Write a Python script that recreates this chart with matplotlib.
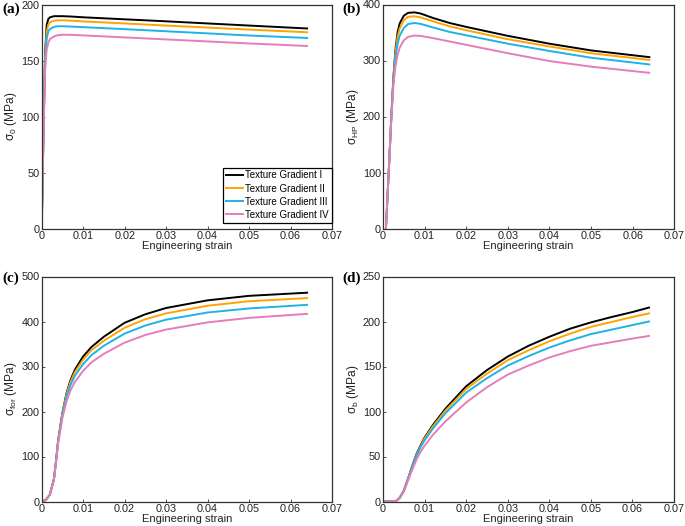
import matplotlib
matplotlib.use('Agg')
import matplotlib.pyplot as plt

plt.rcParams['font.family'] = ['Liberation Sans', 'DejaVu Sans']
plt.rcParams['mathtext.default'] = 'regular'

names = ['Texture Gradient I', 'Texture Gradient II', 'Texture Gradient III', 'Texture Gradient IV']
colors = ['#000000', '#FFA300', '#1CB3E8', '#E67DBB']

# (a) sigma_0
eps_a = [0, 0.0004, 0.0008, 0.0012, 0.0016, 0.002, 0.003, 0.004, 0.005, 0.007,
         0.01, 0.02, 0.03, 0.04, 0.05, 0.064]
s0_1 = [0, 80, 155, 182, 187.5, 189, 190, 190, 190, 189.7, 189, 187.2, 185.4, 183.5, 181.6, 179]
s0_2 = [0, 80, 152, 176, 182.5, 184.5, 186, 186.3, 186.3, 186, 185.3, 183.5, 181.6, 179.8, 178, 175.6]
s0_3 = [0, 80, 148, 170, 176.5, 178.5, 180.5, 181, 181, 180.7, 180.2, 178.4, 176.5, 174.6, 172.7, 170.5]
s0_4 = [0, 78, 140, 160, 166.5, 169.5, 172, 173, 173.4, 173.3, 172.8, 171, 169.2, 167.4, 165.6, 163.3]

# (b) sigma_HP
eps_b = [0.0007, 0.0015, 0.002, 0.0025, 0.003, 0.0035, 0.004, 0.005, 0.006, 0.0075,
         0.009, 0.012, 0.016, 0.02, 0.03, 0.04, 0.05, 0.064]
hp_1 = [0, 120, 200, 270, 320, 350, 366, 380, 385, 386, 384, 376, 367, 360, 344, 330, 318, 306]
hp_2 = [0, 120, 200, 268, 315, 342, 357, 372, 378, 379, 377, 370, 361, 354, 338, 325, 313, 301]
hp_3 = [0, 120, 198, 263, 306, 330, 344, 358, 365, 367, 365.5, 359, 351, 345, 330, 317, 305, 293]
hp_4 = [0, 120, 195, 255, 290, 310, 323, 336, 342, 344.5, 344, 340, 334, 328, 313, 299, 289, 278]

# (c) sigma_for
eps_c = [0, 0.001, 0.002, 0.003, 0.0035, 0.004, 0.005, 0.006, 0.007, 0.008, 0.01,
         0.012, 0.015, 0.02, 0.025, 0.03, 0.04, 0.05, 0.064]
for_1 = [0, 3, 15, 50, 90, 135, 195, 240, 270, 292, 322, 343, 366, 397, 416, 430, 447, 457, 464]
for_2 = [0, 3, 15, 50, 90, 134, 193, 238, 266, 287, 315, 336, 357, 386, 405, 418, 435, 445, 452]
for_3 = [0, 3, 15, 50, 89, 132, 190, 233, 259, 279, 305, 325, 346, 373, 391, 404, 420, 429, 437]
for_4 = [0, 3, 15, 49, 87, 128, 184, 222, 247, 265, 290, 309, 328, 353, 370, 382, 398, 408, 417]

# (d) sigma_b
eps_d = [0, 0.003, 0.004, 0.005, 0.006, 0.007, 0.008, 0.009, 0.01, 0.012, 0.015,
         0.02, 0.025, 0.03, 0.035, 0.04, 0.045, 0.05, 0.055, 0.06, 0.064]
b_1 = [0, 0, 4, 12, 25, 39, 52, 62, 71, 85, 103, 128, 146, 161, 173, 183, 192, 199, 205, 210.5, 215.5]
b_2 = [0, 0, 4, 12, 25, 38.5, 51, 61, 70, 83.5, 101, 125, 142, 157, 168, 178, 186.5, 194, 199.5, 205, 209]
b_3 = [0, 0, 4, 12, 24.5, 38, 50, 60, 68, 81, 98, 121, 137, 151, 161.5, 171, 179, 186, 191, 196, 200]
b_4 = [0, 0, 4, 11, 23, 35, 46, 55, 62, 74, 89, 110, 127, 141, 151, 160, 167, 173, 177, 181, 184]

panels = [
    ('(a)', eps_a, [s0_1, s0_2, s0_3, s0_4], r'σ$_0$ (MPa)', 200, 50),
    ('(b)', eps_b, [hp_1, hp_2, hp_3, hp_4], r'σ$_{HP}$ (MPa)', 400, 100),
    ('(c)', eps_c, [for_1, for_2, for_3, for_4], r'σ$_{for}$ (MPa)', 500, 100),
    ('(d)', eps_d, [b_1, b_2, b_3, b_4], r'σ$_b$ (MPa)', 250, 50),
]

W, H = 685, 526
boxes = [(41.7, 5, 332, 228.5), (383, 4.5, 674.3, 228.5),
         (41.5, 276.5, 332, 501.5), (383, 276.5, 674, 501.5)]
label_pos = [(2, 3), (342, 3), (2, 272), (342, 272)]

fig = plt.figure(figsize=(W / 100, H / 100), dpi=100)

for (tag, eps, series, ylab, ymax, ystep), (x0, y0, x1, y1), (lx, ly) in zip(panels, boxes, label_pos):
    ax = fig.add_axes([x0 / W, 1 - y1 / H, (x1 - x0) / W, (y1 - y0) / H])
    for vals, c, n in zip(series, colors, names):
        ax.plot(eps, vals, color=c, lw=1.4, label=n)
    ax.set_xlim(0, 0.07)
    ax.set_ylim(0, ymax)
    ax.set_xticks([0, 0.01, 0.02, 0.03, 0.04, 0.05, 0.06, 0.07])
    ax.set_xticklabels(['0', '0.01', '0.02', '0.03', '0.04', '0.05', '0.06', '0.07'])
    ax.set_yticks(list(range(0, ymax + 1, ystep)))
    ax.tick_params(direction='in', length=2.5, width=0.6, labelsize=7.8, pad=1.5,
                   colors='#333333', labelcolor='#222222')
    for sp in ax.spines.values():
        sp.set_color('#333333')
        sp.set_linewidth(0.9)
    ax.set_xlabel('Engineering strain', fontsize=8, labelpad=0, color='#222222')
    ax.set_ylabel(ylab, fontsize=8.6, labelpad=1.5, color='#222222')
    fig.text(lx / W, 1 - ly / H, tag, fontsize=11, fontweight='bold',
             family='Liberation Serif', va='top', ha='left')
    if tag == '(a)':
        leg = ax.legend(loc='lower right', bbox_to_anchor=(1, 0.026), borderaxespad=0,
                        fontsize=7, labelspacing=0.32, handlelength=1.7, handletextpad=0.3,
                        borderpad=0.3, fancybox=False, framealpha=1)
        leg.get_frame().set_edgecolor('#000000')
        leg.get_frame().set_linewidth(0.9)

fig.savefig('out.png', dpi=100)
